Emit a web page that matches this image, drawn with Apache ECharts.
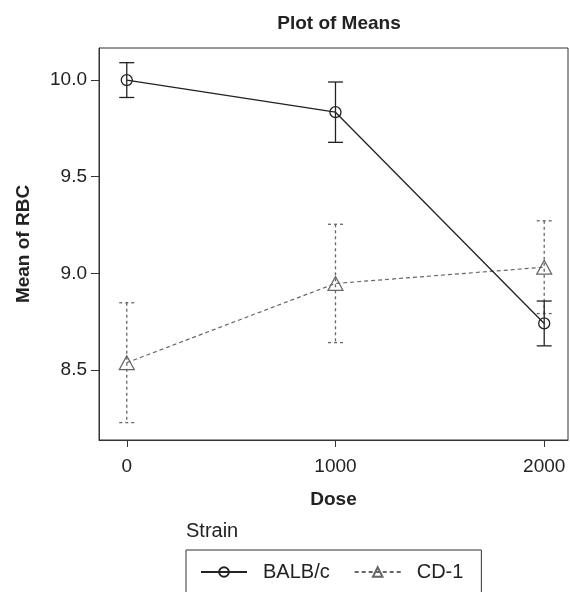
<!DOCTYPE html>
<html>
<head>
<meta charset="utf-8">
<script src="https://cdn.jsdelivr.net/npm/echarts@6/dist/echarts.min.js"></script>
<style>
html,body{margin:0;padding:0;background:#fff;}
#c{width:570px;height:592px;}
</style>
</head>
<body>
<div id="c"></div>
<script>
const doses = [0, 1000, 2000];
const balbMeans = [10.0, 9.834, 8.741];
const balbErr = [0.09, 0.156, 0.116];
const cd1Means = [8.538, 8.948, 9.032];
const cd1Err = [0.31, 0.306, 0.24];
const xTicks = [0, 1000, 2000];
const yTicks = [8.5, 9.0, 9.5, 10.0];

const FONT = '"Liberation Sans", Arial, Helvetica, sans-serif';
const chart = echarts.init(document.getElementById('c'), null, {renderer: 'canvas'});

function errSeries(name, means, errs, color, dash) {
  return {
    type: 'custom',
    name: name + ' err',
    silent: true,
    z: 1,
    data: doses.map((d, i) => [d, means[i], errs[i]]),
    renderItem: function (params, api) {
      const x = api.value(0), m = api.value(1), e = api.value(2);
      const top = api.coord([x, m + e]);
      const bot = api.coord([x, m - e]);
      const hw = 7.5;
      const st = {stroke: color, lineWidth: 1.3, lineDash: dash};
      return {
        type: 'group',
        children: [
          {type: 'line', shape: {x1: top[0], y1: top[1], x2: bot[0], y2: bot[1]}, style: st},
          {type: 'line', shape: {x1: top[0] - hw, y1: top[1], x2: top[0] + hw, y2: top[1]}, style: st},
          {type: 'line', shape: {x1: bot[0] - hw, y1: bot[1], x2: bot[0] + hw, y2: bot[1]}, style: st}
        ]
      };
    }
  };
}

chart.setOption({
  animation: false,
  backgroundColor: '#fff',
  title: {
    text: 'Plot of Means',
    left: 334, top: 9,
    textAlign: 'center',
    textStyle: {fontFamily: FONT, fontSize: 19, fontWeight: 'bold', color: '#222'}
  },
  grid: {left: 99, top: 48, right: 2, bottom: 152, show: true, borderColor: '#333', borderWidth: 1, containLabel: false},
  xAxis: {
    type: 'value', min: -133, max: 2114,
    name: 'Dose', nameLocation: 'middle', nameGap: 50,
    nameTextStyle: {fontFamily: FONT, fontSize: 19, fontWeight: 'bold', color: '#222'},
    axisLine: {show: true, onZero: false, lineStyle: {color: '#333'}},
    axisTick: {show: true, length: 7, customValues: xTicks, lineStyle: {color: '#333'}},
    axisLabel: {customValues: xTicks, margin: 17, fontFamily: FONT, fontSize: 19, color: '#222',
      formatter: v => String(Math.round(v))},
    splitLine: {show: false}
  },
  yAxis: {
    type: 'value', min: 8.138, max: 10.166,
    name: 'Mean of RBC', nameLocation: 'middle', nameGap: 66,
    nameTextStyle: {fontFamily: FONT, fontSize: 19, fontWeight: 'bold', color: '#222'},
    axisLine: {show: true, onZero: false, lineStyle: {color: '#333'}},
    axisTick: {show: true, length: 8, customValues: yTicks, lineStyle: {color: '#333'}},
    axisLabel: {customValues: yTicks, margin: 12, fontFamily: FONT, fontSize: 19, color: '#222',
      formatter: v => Number(v).toFixed(1)},
    splitLine: {show: false}
  },
  legend: {
    data: ['BALB/c', 'CD-1'],
    left: 186, top: 550,
    orient: 'horizontal',
    padding: [12, 18, 20, 14],
    borderColor: '#333', borderWidth: 1,
    itemWidth: 46, itemHeight: 12, itemGap: 24,
    textStyle: {fontFamily: FONT, fontSize: 20, color: '#222', padding: [0, 0, 0, 11]}
  },
  graphic: [{
    type: 'text', left: 186, top: 521,
    style: {text: 'Strain', font: '20px ' + FONT, fill: '#222'}
  }],
  series: [
    errSeries('CD-1', cd1Means, cd1Err, '#666', [3, 3]),
    errSeries('BALB/c', balbMeans, balbErr, '#222', null),
    {
      type: 'line', name: 'CD-1', z: 2,
      data: doses.map((d, i) => [d, cd1Means[i]]),
      symbol: 'triangle', symbolSize: [15, 14],
      lineStyle: {color: '#666', width: 1.2, type: [4, 3]},
      itemStyle: {color: 'rgba(0,0,0,0)', borderColor: '#666', borderWidth: 1.2}
    },
    {
      type: 'line', name: 'BALB/c', z: 3,
      data: doses.map((d, i) => [d, balbMeans[i]]),
      symbol: 'circle', symbolSize: 11,
      lineStyle: {color: '#222', width: 1.3},
      itemStyle: {color: 'rgba(0,0,0,0)', borderColor: '#222', borderWidth: 1.3}
    }
  ]
});
</script>
</body>
</html>
